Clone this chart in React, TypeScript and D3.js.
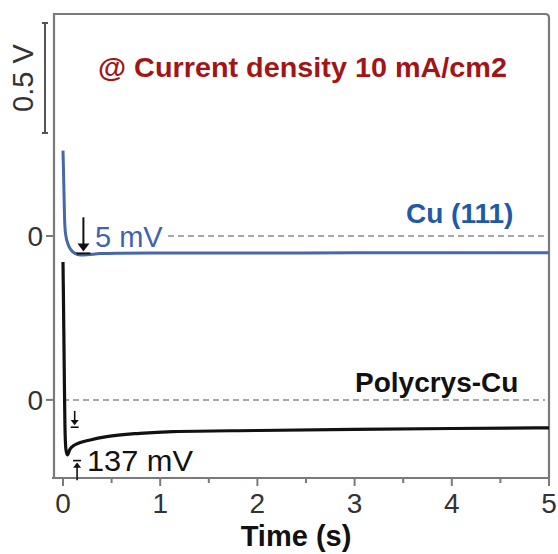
import React from "react";
import * as d3 from "d3";

// ---- data ----
const TIME_CU = [0, 0.005, 0.01, 0.015, 0.02, 0.03, 0.05, 0.08, 0.12, 0.18, 0.25, 0.38, 0.6, 0.9, 1.5, 2.5, 3.5, 5];
const V_CU = [0.388, 0.3, 0.2, 0.1, 0.04, 0.0, -0.035, -0.062, -0.078, -0.086, -0.085, -0.08, -0.078, -0.077, -0.077, -0.077, -0.076, -0.076];
const TIME_POLY = [0, 0.005, 0.01, 0.015, 0.02, 0.03, 0.045, 0.07, 0.12, 0.17, 0.28, 0.45, 0.79, 1.13, 2, 3, 4, 5];
const V_POLY = [0.627, 0.45, 0.25, 0.05, -0.12, -0.225, -0.25, -0.225, -0.205, -0.195, -0.182, -0.167, -0.152, -0.144, -0.139, -0.134, -0.13, -0.127];
const OFFSET_CU = 0;
const OFFSET_POLY = -0.745;
const X_TICKS = [0, 1, 2, 3, 4, 5];
const X_MINOR = [0.5, 1.5, 2.5, 3.5, 4.5];
const TITLE = "@ Current density 10 mA/cm2";
const LABEL_CU = "Cu (111)";
const LABEL_POLY = "Polycrys-Cu";
const ANNOT_CU = "5 mV";
const ANNOT_POLY = "137 mV";
const SCALE_BAR = "0.5 V";
const X_LABEL = "Time (s)";

const W = 558, H = 554;
const x = d3.scaleLinear().domain([0, 5]).range([63, 549]);
const y = d3.scaleLinear().domain([-1.1, 1.009]).range([478, 14]);

const line = d3.line<[number, number]>().x(d => x(d[0])).y(d => y(d[1])).curve(d3.curveMonotoneX);

const cuPts: [number, number][] = TIME_CU.map((t, i) => [t, V_CU[i] + OFFSET_CU]);
const polyPts: [number, number][] = TIME_POLY.map((t, i) => [t, V_POLY[i] + OFFSET_POLY]);

function Arrow({ t, v0, v1, off, head = 6, bar = 6, color = "#111", w = 2 }: any) {
  const X = x(t);
  const y0 = y(v0 + off), y1 = y(v1 + off);
  const dir = y1 > y0 ? 1 : -1;
  const hl = head * 1.3;
  return (
    <g stroke={color} strokeWidth={w} fill={color}>
      <line x1={X} x2={X} y1={y0} y2={y1 - dir * hl * 0.6} />
      <path d={`M${X - head},${y1 - dir * hl} L${X + head},${y1 - dir * hl} L${X},${y1} Z`} stroke="none" />
      <line x1={X - bar} x2={X + bar} y1={y1 + dir * 2} y2={y1 + dir * 2} />
    </g>
  );
}

export default function App() {
  const font = "'Liberation Sans', Arial, sans-serif";
  const frameColor = "#7a7a7a";
  return (
    <svg width={W} height={H} style={{ position: "absolute", left: 0, top: 0, background: "#fff" }} fontFamily={font}>
      {/* frame */}
      <path d={`M54,478 L54,14 L545,14 Q549,14 549,18 L549,478`} fill="none" stroke={frameColor} strokeWidth={2.2} />
      <line x1={52} x2={549} y1={478} y2={478} stroke={frameColor} strokeWidth={2.2} />
      {/* x ticks */}
      {X_TICKS.map(t => (
        <g key={t}>
          <line x1={x(t)} x2={x(t)} y1={478} y2={486} stroke={frameColor} strokeWidth={2} />
          <text x={x(t)} y={513} textAnchor="middle" fontSize={28} fill="#333">{t}</text>
        </g>
      ))}
      {X_MINOR.map(t => (
        <line key={t} x1={x(t)} x2={x(t)} y1={478} y2={483} stroke={frameColor} strokeWidth={2} />
      ))}
      <text x={296} y={546} textAnchor="middle" fontSize={29} fontWeight="bold" fill="#111">{X_LABEL}</text>

      {/* y zero labels */}
      {[OFFSET_CU, OFFSET_POLY].map((o, i) => (
        <g key={i}>
          <line x1={46} x2={54} y1={y(o)} y2={y(o)} stroke={frameColor} strokeWidth={2} />
          <text x={43} y={y(o)} dy="0.36em" textAnchor="end" fontSize={28} fill="#333">0</text>
        </g>
      ))}

      {/* scale bar */}
      <g stroke="#555" strokeWidth={2}>
        <line x1={45} x2={45} y1={y(0.968)} y2={y(0.468)} />
        <line x1={42} x2={48} y1={y(0.968)} y2={y(0.968)} />
        <line x1={42} x2={48} y1={y(0.468)} y2={y(0.468)} />
      </g>
      <text transform={`translate(33,${(y(0.968) + y(0.468)) / 2}) rotate(-90)`} textAnchor="middle" fontSize={29} fill="#333">{SCALE_BAR}</text>

      {/* dashed zero lines */}
      <line x1={x(1.08)} x2={x(5) - 4} y1={y(OFFSET_CU)} y2={y(OFFSET_CU)} stroke="#8a8a8a" strokeWidth={1.5} strokeDasharray="6,4" />
      <line x1={x(0)} x2={x(5) - 4} y1={y(OFFSET_POLY)} y2={y(OFFSET_POLY)} stroke="#8a8a8a" strokeWidth={1.5} strokeDasharray="6,4" />

      {/* curves */}
      <path d={line(cuPts) || ""} fill="none" stroke="#4467ad" strokeWidth={3} />
      <path d={line(polyPts) || ""} fill="none" stroke="#111" strokeWidth={3.2} />

      {/* annotations */}
      <Arrow t={0.21} v0={0.085} v1={-0.07} off={OFFSET_CU} head={6} bar={7} />
      <Arrow t={0.12} v0={-0.05} v1={-0.115} off={OFFSET_POLY} head={4} bar={4} w={1.6} />
      <Arrow t={0.145} v0={-0.365} v1={-0.285} off={OFFSET_POLY} head={4} bar={4} w={1.6} />
      <text x={95} y={y(OFFSET_CU - 0.05)} fontSize={29} fill="#3f63ad">{ANNOT_CU}</text>
      <text x={87} y={y(OFFSET_POLY - 0.325)} fontSize={29} fill="#111" textLength={106} lengthAdjust="spacingAndGlyphs">{ANNOT_POLY}</text>

      {/* titles / labels */}
      <text x={98} y={77} fontSize={28} fontWeight="bold" fill="#a31515" textLength={409} lengthAdjust="spacingAndGlyphs">{TITLE}</text>
      <text x={406} y={223} fontSize={28} fontWeight="bold" fill="#1f5aa6">{LABEL_CU}</text>
      <text x={355} y={392} fontSize={28} fontWeight="bold" fill="#111">{LABEL_POLY}</text>
    </svg>
  );
}
